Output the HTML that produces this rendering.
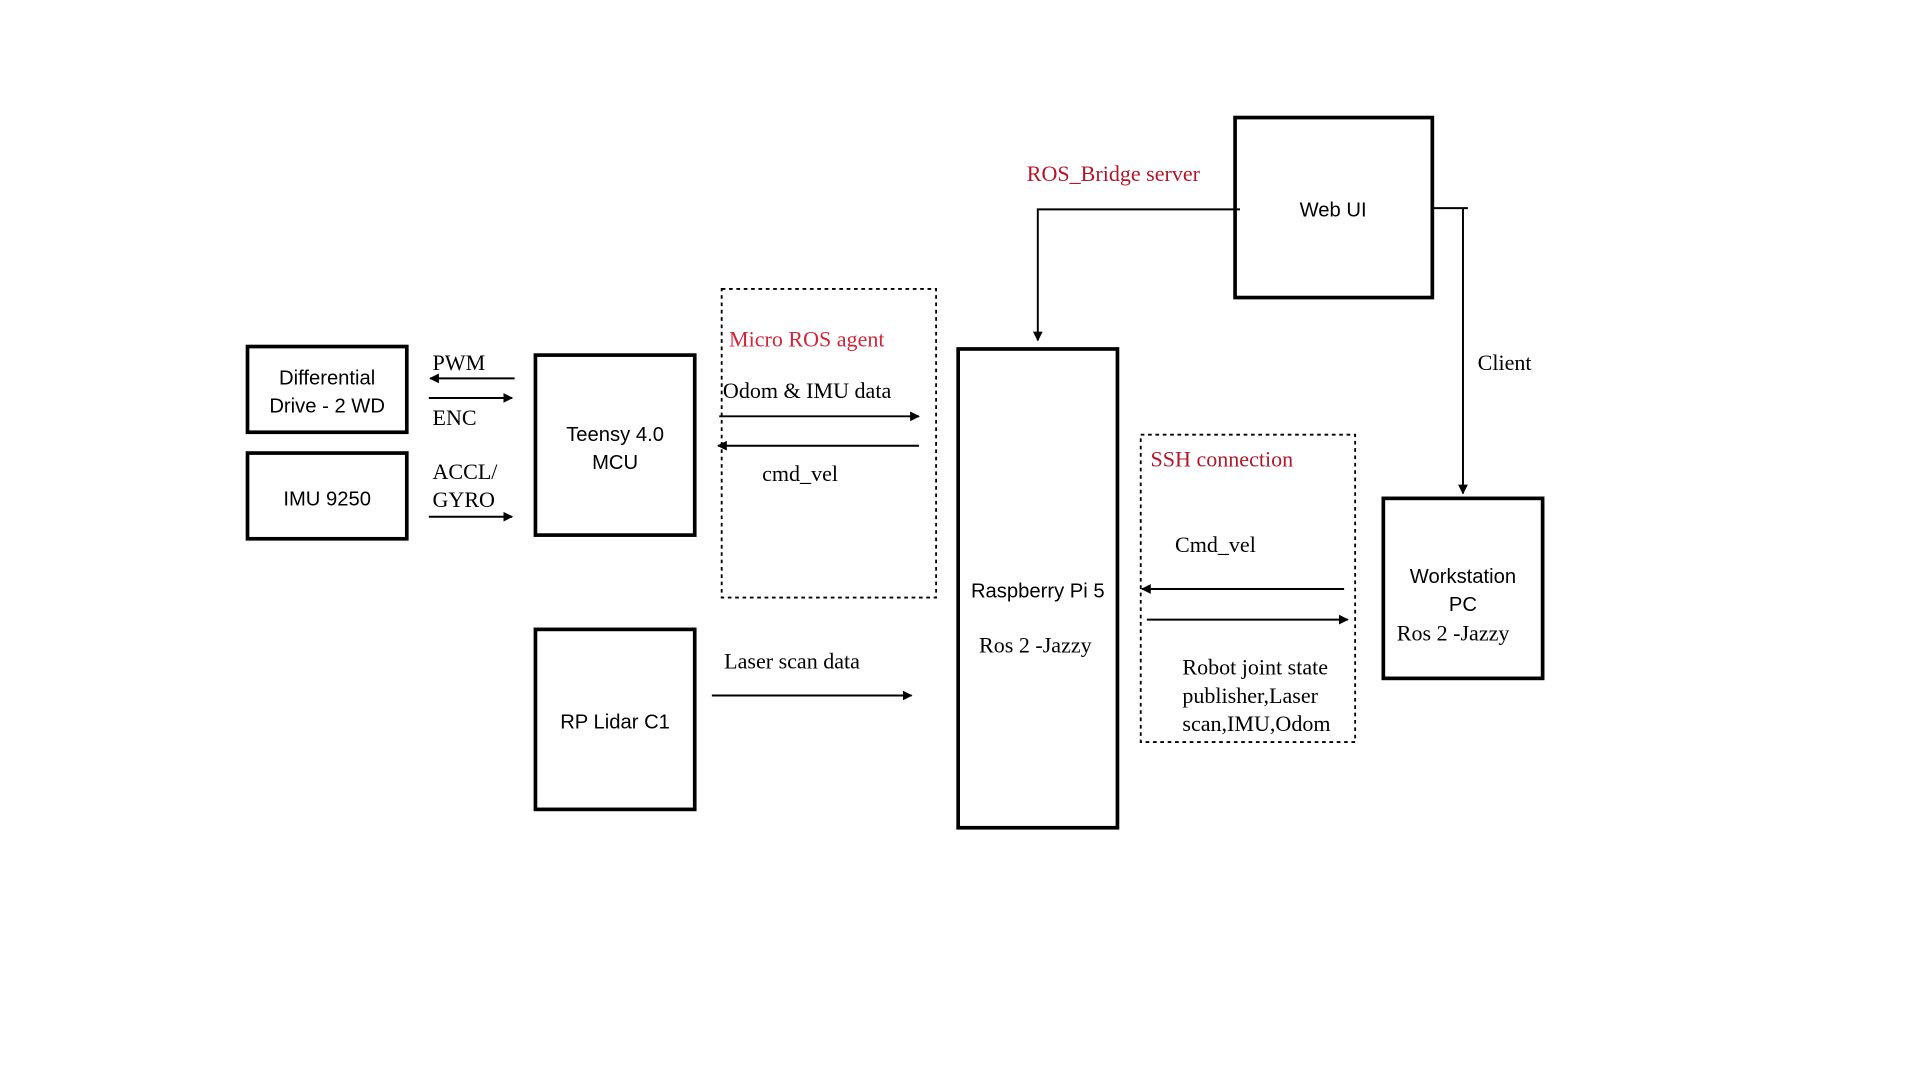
<!DOCTYPE html>
<html><head><meta charset="utf-8"><style>
html,body{margin:0;padding:0;background:#fff;width:1920px;height:1080px;overflow:hidden}
svg{display:block}
.s{font-family:"Liberation Sans",sans-serif;font-size:16.5px;fill:#000}
.t{font-family:"Liberation Serif",serif;font-size:18px;fill:#000}
.r{font-family:"Liberation Serif",serif;font-size:18px;fill:#b0182a}
.b{fill:none;stroke:#000;stroke-width:3}
.d{fill:none;stroke:#000;stroke-width:1.5;stroke-dasharray:3,3}
.l{stroke:#000;stroke-width:1.6;fill:none}
</style></head><body>
<svg width="1920" height="1080" viewBox="0 0 1567 882" preserveAspectRatio="none">
<defs><marker id="a" viewBox="0 0 10 10" refX="9" refY="5" markerWidth="5" markerHeight="5" orient="auto"><path d="M0,0L10,5L0,10z" fill="#000"/></marker></defs>
<rect class="b" x="202" y="283" width="130" height="70"/>
<text class="s" x="267" y="314" text-anchor="middle">Differential</text>
<text class="s" x="267" y="337" text-anchor="middle">Drive - 2 WD</text>
<rect class="b" x="202" y="370" width="130" height="70"/>
<text class="s" x="267" y="413" text-anchor="middle">IMU 9250</text>
<rect class="b" x="437" y="290" width="130" height="147"/>
<text class="s" x="502" y="360" text-anchor="middle">Teensy 4.0</text>
<text class="s" x="502" y="383" text-anchor="middle">MCU</text>
<rect class="b" x="437" y="514" width="130" height="147"/>
<text class="s" x="502" y="595" text-anchor="middle">RP Lidar C1</text>
<rect class="b" x="782" y="285" width="130" height="391"/>
<text class="s" x="847" y="488" text-anchor="middle">Raspberry Pi 5</text>
<text class="t" x="845" y="533" text-anchor="middle">Ros 2 -Jazzy</text>
<rect class="b" x="1008" y="96" width="161" height="147"/>
<text class="s" x="1088" y="177" text-anchor="middle">Web UI</text>
<rect class="b" x="1129" y="407" width="130" height="147"/>
<text class="s" x="1194" y="476" text-anchor="middle">Workstation</text>
<text class="s" x="1194" y="499" text-anchor="middle">PC</text>
<text class="t" x="1140" y="523">Ros 2 -Jazzy</text>
<rect class="d" x="589" y="236" width="175" height="252"/>
<rect class="d" x="931" y="355" width="175" height="251"/>
<text class="t" x="353" y="302">PWM</text>
<line class="l" x1="420" y1="309" x2="351" y2="309" marker-end="url(#a)"/>
<line class="l" x1="350" y1="325" x2="418" y2="325" marker-end="url(#a)"/>
<text class="t" x="353" y="347">ENC</text>
<text class="t" x="353" y="391">ACCL/</text>
<text class="t" x="353" y="414">GYRO</text>
<line class="l" x1="350" y1="422" x2="418" y2="422" marker-end="url(#a)"/>
<text class="r" x="595" y="283" style="fill:#d0263a">Micro ROS agent</text>
<text class="t" x="590" y="325">Odom &amp; IMU data</text>
<line class="l" x1="587" y1="340" x2="750" y2="340" marker-end="url(#a)"/>
<line class="l" x1="750" y1="364" x2="586" y2="364" marker-end="url(#a)"/>
<text class="t" x="622" y="393">cmd_vel</text>
<text class="t" x="591" y="546">Laser scan data</text>
<line class="l" x1="581" y1="568" x2="744" y2="568" marker-end="url(#a)"/>
<text class="r" x="838" y="148">ROS_Bridge server</text>
<polyline class="l" points="1012,171 847,171 847,278" marker-end="url(#a)"/>
<line class="l" x1="1169" y1="170" x2="1198" y2="170"/>
<line class="l" x1="1194" y1="170" x2="1194" y2="403" marker-end="url(#a)"/>
<text class="t" x="1206" y="302">Client</text>
<text class="r" x="939" y="381">SSH connection</text>
<text class="t" x="959" y="451">Cmd_vel</text>
<line class="l" x1="1097" y1="481" x2="932" y2="481" marker-end="url(#a)"/>
<line class="l" x1="936" y1="506" x2="1100" y2="506" marker-end="url(#a)"/>
<text class="t" x="965" y="551">Robot joint state</text>
<text class="t" x="965" y="574">publisher,Laser</text>
<text class="t" x="965" y="597">scan,IMU,Odom</text>
</svg>
</body></html>
